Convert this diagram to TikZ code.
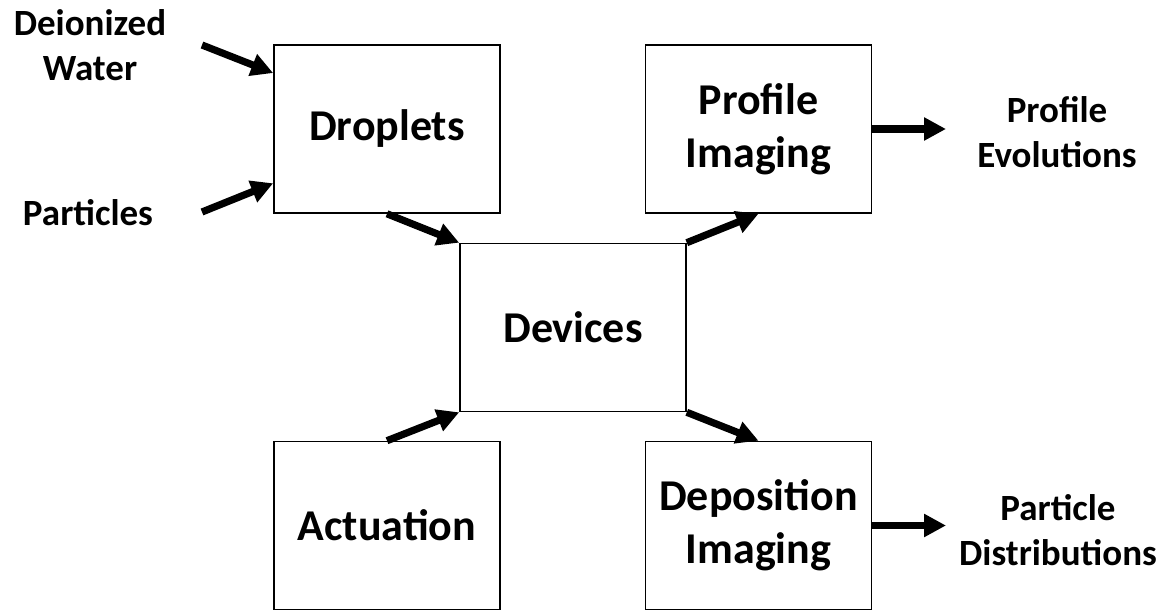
\documentclass[tikz,border=0pt]{standalone}
\usepackage{fontspec}
\setmainfont{Carlito}
\usetikzlibrary{arrows.meta,calc}

\begin{document}
\begin{tikzpicture}[x=0.5pt,y=-0.5pt,
	block/.style = {draw, line width=0.8pt, rectangle, minimum width=113pt, minimum height=84pt,
		align=center, font=\bfseries\fontsize{22}{26.5}\selectfont},
	lbl/.style = {align=center, font=\bfseries\fontsize{18.5}{22.5}\selectfont},
	flow/.style = {line width=3.6pt, -{Triangle[length=11pt,width=11pt]}}]
\useasboundingbox (0,0) rectangle (1164,611);
\node[block] (drop) at (387,129) {Droplets};
\node[block] (prof) at (758.5,129) {Profile\\Imaging};
\node[block] (dev) at (573,327.5) {Devices};
\node[block] (act) at (387,525.5) {Actuation};
\node[block] (dep) at (758.5,525.5) {Deposition\\Imaging};
\node[lbl] (water) at (90,45) {Deionized\\Water};
\node[lbl] (part) at (88,213) {Particles};
\node[lbl] (evol) at (1057,132) {Profile\\Evolutions};
\node[lbl] (dist) at (1058,530) {Particle\\Distributions};
\coordinate (waterOut) at (202,45);
\coordinate (partOut) at (202,212);
\coordinate (evolIn) at (946,129);
\coordinate (distIn) at (946,525.5);
\draw[flow] (waterOut) -- ($(drop.north west)!0.17!(drop.south west)$);
\draw[flow] (partOut) -- ($(drop.north west)!0.82!(drop.south west)$);
\draw[flow] (drop.south) -- (dev.north west);
\draw[flow] (act.north) -- (dev.south west);
\draw[flow] (dev.north east) -- (prof.south);
\draw[flow] (dev.south east) -- (dep.north);
\draw[flow] (prof.east) -- (evolIn);
\draw[flow] (dep.east) -- (distIn);
\end{tikzpicture}
\end{document}
